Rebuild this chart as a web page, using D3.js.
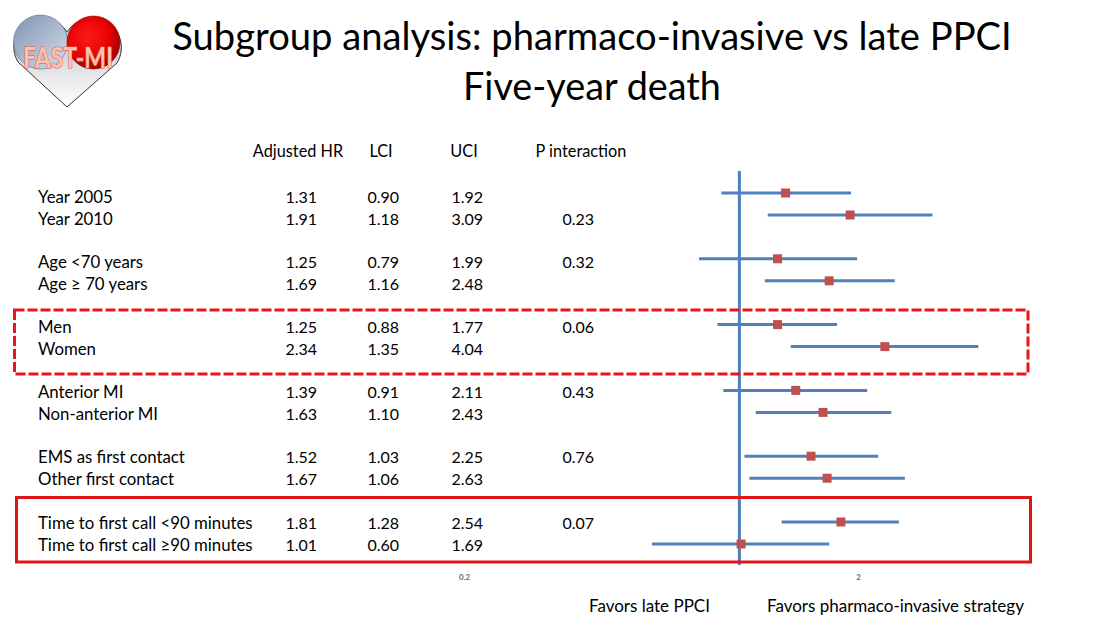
<!DOCTYPE html>
<html>
<head>
<meta charset="utf-8">
<script src="https://cdn.jsdelivr.net/npm/d3@7"></script>
<style>
  html, body { margin: 0; padding: 0; background: #fff; }
  svg { display: block; font-family: Lato, "Open Sans", sans-serif; }
</style>
</head>
<body>
<svg id="chart" width="1094" height="618"></svg>
<script>
// ---- data ----
const subgroups = ["Year 2005", "Year 2010", "Age <70 years", "Age \u2265 70 years", "Men", "Women",
  "Anterior MI", "Non-anterior MI", "EMS as first contact", "Other first contact",
  "Time to first call <90 minutes", "Time to first call \u226590 minutes"];
const hr  = [1.31, 1.91, 1.25, 1.69, 1.25, 2.34, 1.39, 1.63, 1.52, 1.67, 1.81, 1.01];
const lci = [0.90, 1.18, 0.79, 1.16, 0.88, 1.35, 0.91, 1.10, 1.03, 1.06, 1.28, 0.60];
const uci = [1.92, 3.09, 1.99, 2.48, 1.77, 4.04, 2.11, 2.43, 2.25, 2.63, 2.54, 1.69];
const pInteraction = ["", "0.23", "0.32", "", "0.06", "", "0.43", "", "0.76", "", "0.07", ""];
const columnHeaders = ["Adjusted HR", "LCI", "UCI", "P interaction"];
const axisTicks = [0.2, 2];
const titleLines = ["Subgroup analysis: pharmaco-invasive vs late PPCI", "Five-year death"];
const favorLabels = ["Favors late PPCI", "Favors pharmaco-invasive strategy"];

const svg = d3.select("#chart");
const fmt = d3.format(".2f");

// ---- logo ----
const defs = svg.append("defs");
const gBody = defs.append("linearGradient").attr("id", "gBody").attr("x1", 0).attr("y1", 0).attr("x2", 0).attr("y2", 1);
gBody.append("stop").attr("offset", "0%").attr("stop-color", "#b8bcc4");
gBody.append("stop").attr("offset", "100%").attr("stop-color", "#ffffff");
const gBlue = defs.append("linearGradient").attr("id", "gBlue").attr("x1", 0).attr("y1", 0).attr("x2", 1).attr("y2", 1);
gBlue.append("stop").attr("offset", "0%").attr("stop-color", "#7f93b2");
gBlue.append("stop").attr("offset", "100%").attr("stop-color", "#d6deea");
const gRed = defs.append("radialGradient").attr("id", "gRed").attr("cx", "40%").attr("cy", "40%").attr("r", "60%");
gRed.append("stop").attr("offset", "0%").attr("stop-color", "#ff1a1a");
gRed.append("stop").attr("offset", "70%").attr("stop-color", "#e60000");
gRed.append("stop").attr("offset", "100%").attr("stop-color", "#a80000");

const logo = svg.append("g");
logo.append("path")
  .attr("d", "M67,107 L18,62 A27,27 0 0 1 67,32 A27,27 0 0 1 117,63 Z")
  .attr("fill", "url(#gBody)").attr("stroke", "#333").attr("stroke-width", 1);
logo.append("circle").attr("cx", 40.5).attr("cy", 42).attr("r", 27)
  .attr("fill", "url(#gBlue)").attr("stroke", "#5a6a80").attr("stroke-width", 0.6);
logo.append("circle").attr("cx", 93.5).attr("cy", 42.5).attr("r", 26.5)
  .attr("fill", "url(#gRed)").attr("stroke", "#8a0000").attr("stroke-width", 0.6);
logo.append("text").attr("x", 68).attr("y", 68).attr("text-anchor", "middle")
  .attr("font-size", 28).attr("font-family", "Lato, sans-serif").attr("font-weight", "bold")
  .attr("fill", "#f9c3ab").attr("stroke", "#e0504a").attr("stroke-width", 1)
  .attr("paint-order", "stroke")
  .attr("textLength", 90).attr("lengthAdjust", "spacingAndGlyphs")
  .text("FAST-MI");

// ---- title ----
const titleWidths = [840, 258];
const titleBase = [50, 100];
titleLines.forEach((t, i) => {
  const el = svg.append("text").attr("x", 592).attr("y", titleBase[i])
    .attr("text-anchor", "middle").attr("font-size", 34).attr("fill", "#000").text(t);
  const w = el.node().getComputedTextLength();
  el.attr("font-size", 34 * titleWidths[i] / w);
});

// ---- table ----
const colX = [317, 399, 483, 594];      // right edges of value columns
const headerX = [298, 381, 464, 581];   // centres of headers
const labelX = 38;

svg.append("g").selectAll("text").data(columnHeaders).join("text")
  .attr("x", (d, i) => headerX[i]).attr("y", 157)
  .attr("text-anchor", "middle").attr("font-size", 16.3).attr("fill", "#000")
  .text(d => d);

// row positions
const rowCenter = i => 196 + Math.floor(i / 2) * 65.2 + (i % 2) * 22;
const markerY = i => rowCenter(i) - 3 + Math.floor(i / 2) * 0.6;

const rows = subgroups.map((s, i) => ({ label: s, hr: hr[i], lci: lci[i], uci: uci[i], p: pInteraction[i], i }));

const rowG = svg.append("g").selectAll("g").data(rows).join("g")
  .attr("transform", d => `translate(0,${rowCenter(d.i) + 6.5})`)
  .attr("font-size", 16).attr("fill", "#000");
rowG.append("text").attr("x", labelX).attr("font-size", 16.8).text(d => d.label);
rowG.append("text").attr("x", colX[0]).attr("text-anchor", "end").text(d => fmt(d.hr));
rowG.append("text").attr("x", colX[1]).attr("text-anchor", "end").text(d => fmt(d.lci));
rowG.append("text").attr("x", colX[2]).attr("text-anchor", "end").text(d => fmt(d.uci));
rowG.append("text").attr("x", colX[3]).attr("text-anchor", "end").text(d => d.p);

// ---- forest plot ----
const x = d3.scaleLog().domain([0.2, 2]).range([464, 858]);
const blue = "#4f81bd", red = "#c0504d";

svg.append("line").attr("x1", x(1)).attr("x2", x(1)).attr("y1", 171).attr("y2", 565)
  .attr("stroke", blue).attr("stroke-width", 3);

const fg = svg.append("g");
fg.selectAll("line.ci").data(rows).join("line").attr("class", "ci")
  .attr("x1", d => x(d.lci)).attr("x2", d => x(d.uci))
  .attr("y1", d => markerY(d.i)).attr("y2", d => markerY(d.i))
  .attr("stroke", blue).attr("stroke-width", 3);
const ms = 9;
fg.selectAll("rect.pt").data(rows).join("rect").attr("class", "pt")
  .attr("x", d => x(d.hr) - ms / 2).attr("y", d => markerY(d.i) - ms / 2)
  .attr("width", ms).attr("height", ms).attr("fill", red);

// axis (tick labels only)
const axis = svg.append("g").attr("transform", "translate(0,565)")
  .call(d3.axisBottom(x).tickValues(axisTicks).tickFormat(d3.format("")).tickSize(0).tickPadding(9));
axis.select(".domain").remove();
axis.selectAll("text").attr("font-size", 8).attr("font-family", "Lato, sans-serif")
  .attr("font-weight", "bold").attr("fill", "#666");

// ---- highlight boxes ----
svg.append("rect").attr("x", 14.5).attr("y", 310).attr("width", 1013.5).attr("height", 64)
  .attr("fill", "none").attr("stroke", "#e8161b").attr("stroke-width", 3).attr("stroke-dasharray", "10,3");
svg.append("rect").attr("x", 16.5).attr("y", 497.5).attr("width", 1014).attr("height", 64.5)
  .attr("fill", "none").attr("stroke", "#e01515").attr("stroke-width", 3);

// ---- favors labels ----
const favX = [589, 767];
svg.append("g").selectAll("text").data(favorLabels).join("text")
  .attr("x", (d, i) => favX[i]).attr("y", 612).attr("font-size", 17).attr("fill", "#000")
  .text(d => d);
</script>
</body>
</html>
